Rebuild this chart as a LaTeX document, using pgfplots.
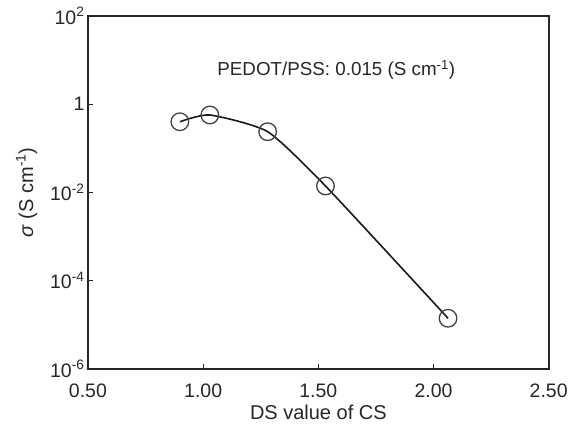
\documentclass[border=0pt]{standalone}
\usepackage{pgfplots}
\pgfplotsset{compat=1.18}
\usepackage{fontspec}
\setmainfont{Liberation Sans}
\begin{document}
\begin{tikzpicture}
\begin{axis}[
  scale only axis,
  width=461pt, height=353pt,
  xmin=0.5, xmax=2.5,
  ymode=log, ymin=1e-6, ymax=1e2,
  axis line style={line width=1.6pt, black!85},
  tick style={line width=1.2pt, black!85},
  major tick length=5pt,
  tick pos=left,
  tick align=inside,
  xtick={0.5,1,1.5,2,2.5},
  xticklabels={0.50,1.00,1.50,2.00,2.50},
  ytick={1e-6,1e-4,1e-2,1,1e2},
  yticklabels={10\textsuperscript{-6},10\textsuperscript{-4},10\textsuperscript{-2},1,10\textsuperscript{2}},
  minor tick num=0,
  yminorticks=false,
  ticklabel style={font=\fontsize{19.5}{22}\selectfont, text=black!85},
  xticklabel style={yshift=-12pt},
  /pgf/number format/assume math mode=true,
  xlabel={DS value of CS},
  ylabel={\textit{σ} (S cm\textsuperscript{-1})},
  label style={font=\fontsize{20}{22}\selectfont, text=black!85},
  xlabel style={yshift=0pt},
  ylabel style={yshift=6pt},
  clip=false,
]
\addplot[line width=1.6pt, black!90, smooth, tension=0.35, mark=o, mark size=8.8pt,
  mark options={fill=white, draw=black!75, line width=1.3pt, solid}]
  coordinates {(0.899,0.40) (1.029,0.57) (1.28,0.238) (1.531,0.014) (2.063,1.4e-5)};
\node[font=\fontsize{18.8}{20}\selectfont, text=black!85] at (axis cs:1.578,6) {PEDOT/PSS: 0.015 (S cm\textsuperscript{-1})};
\path (rel axis cs:0,0) ++(-88pt,-65pt) -- ++(0pt,0pt);
\path (rel axis cs:1,1) ++(22pt,16pt) -- ++(0pt,0pt);
\end{axis}
\end{tikzpicture}
\end{document}
